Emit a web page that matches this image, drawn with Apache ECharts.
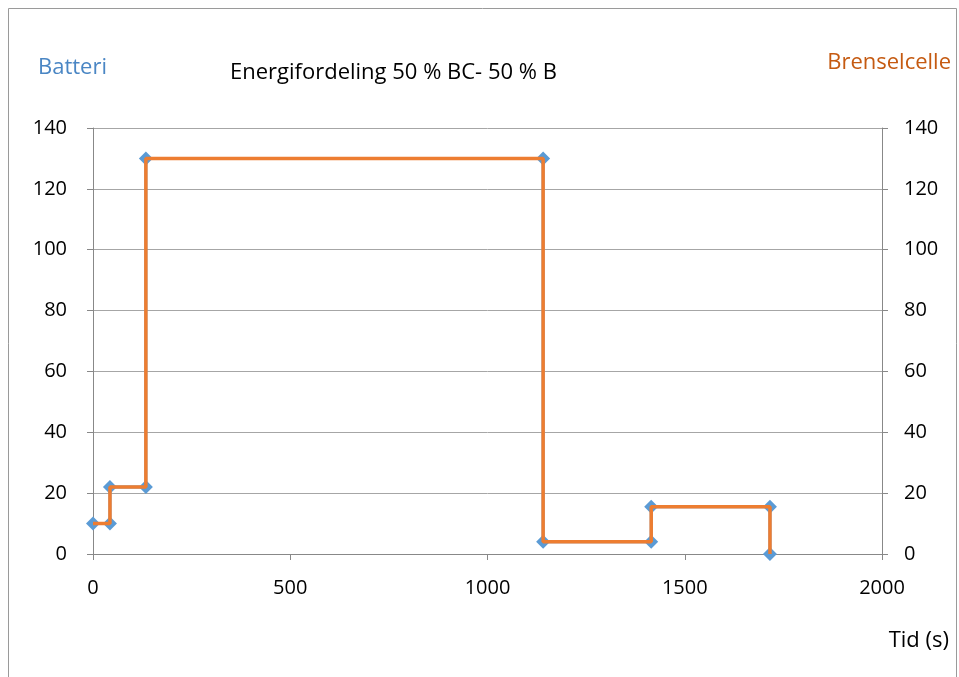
<!DOCTYPE html>
<html>
<head>
<meta charset="utf-8">
<script src="https://cdn.jsdelivr.net/npm/echarts@6/dist/echarts.min.js"></script>
<style>
  html, body { margin: 0; padding: 0; background: #fff; }
  #chart { width: 959px; height: 677px; }
</style>
</head>
<body>
<div id="chart"></div>
<script>
// time (s) of each step point
const tid = [0, 43, 43, 134, 134, 1141, 1141, 1415, 1415, 1716, 1716];
// power values
const batteri = [10, 10, 22, 22, 130, 130, 4, 4, 15.5, 15.5, 0];
const brenselcelle = [10, 10, 22, 22, 130, 130, 4, 4, 15.5, 15.5, 0];
const xTicks = [0, 500, 1000, 1500, 2000];

const font = "'Open Sans', 'Noto Sans', sans-serif";
const chart = echarts.init(document.getElementById("chart"));

const pairs = (ys) => tid.map((t, i) => [t, ys[i]]);

const axisLabel = { color: "#000", fontSize: 20, fontFamily: font };

chart.setOption({
  animation: false,
  textStyle: { fontFamily: font },
  graphic: [
    {
      type: "rect",
      shape: { x: 8.5, y: 8.5, width: 948, height: 680 },
      style: { fill: "none", stroke: "#9a9a9a", lineWidth: 1 },
    },
    {
      type: "text",
      left: 38,
      top: 57,
      style: { text: "Batteri", fill: "#4a86c4", fontSize: 22, fontFamily: font },
    },
    {
      type: "text",
      right: 8,
      top: 52,
      style: { text: "Brenselcelle", fill: "#c55a11", fontSize: 22, fontFamily: font },
    },
    {
      type: "text",
      left: 230,
      top: 62,
      style: { text: "Energifordeling 50 % BC- 50 % B", fill: "#000", fontSize: 22, fontFamily: font },
    },
    {
      type: "text",
      right: 10,
      top: 630,
      style: { text: "Tid (s)", fill: "#000", fontSize: 22, fontFamily: font },
    },
  ],
  grid: { left: 93, right: 77, top: 128, bottom: 123 },
  xAxis: {
    type: "value",
    min: 0,
    max: 2000,
    interval: 500,
    axisLine: { show: true, onZero: false, lineStyle: { color: "#888" } },
    axisTick: { show: true, length: 6, lineStyle: { color: "#888" } },
    axisLabel: { ...axisLabel, margin: 24, formatter: (v) => (xTicks.includes(v) ? String(v) : "") },
    splitLine: { show: false },
  },
  yAxis: [
    {
      type: "value",
      min: 0,
      max: 140,
      interval: 20,
      axisLine: { show: true, lineStyle: { color: "#888" } },
      axisTick: { show: true, length: 6, lineStyle: { color: "#888" } },
      axisLabel: { ...axisLabel, margin: 26 },
      splitLine: { show: true, lineStyle: { color: "#a6a6a6", width: 1 } },
    },
    {
      type: "value",
      position: "right",
      min: 0,
      max: 140,
      interval: 20,
      axisLine: { show: true, lineStyle: { color: "#888" } },
      axisTick: { show: true, length: 6, lineStyle: { color: "#888" } },
      axisLabel: { ...axisLabel, margin: 22 },
      splitLine: { show: false },
    },
  ],
  series: [
    {
      name: "Batteri",
      type: "line",
      yAxisIndex: 0,
      data: pairs(batteri),
      symbol: "diamond",
      symbolSize: 14,
      itemStyle: { color: "#5b9bd5" },
      lineStyle: { color: "#5b9bd5", width: 3 },
      z: 2,
    },
    {
      name: "Brenselcelle",
      type: "line",
      yAxisIndex: 1,
      data: pairs(brenselcelle),
      showSymbol: false,
      symbol: "none",
      lineStyle: { color: "#ed7d31", width: 3.5 },
      z: 3,
    },
  ],
});
</script>
</body>
</html>
